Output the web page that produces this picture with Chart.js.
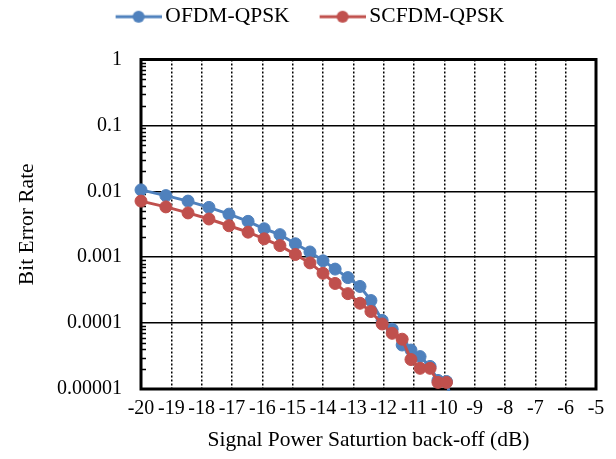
<!DOCTYPE html>
<html><head><meta charset="utf-8">
<script src="https://cdn.jsdelivr.net/npm/chart.js@4/dist/chart.umd.min.js"></script>
<style>html,body{margin:0;padding:0;background:#fff;}#wrap{width:616px;height:459px;position:relative;}</style>
</head><body><div id="wrap"><canvas id="c" width="616" height="459"></canvas></div>
<script>
// ---- data ----
const seriesNames = ['OFDM-QPSK', 'SCFDM-QPSK'];
const seriesColors = ['#4F81BD', '#C0504D'];
const backoffOfdm = [-20.0,-19.18,-18.45,-17.76,-17.10,-16.47,-15.94,-15.42,-14.91,-14.43,-14.0,-13.6,-13.18,-12.78,-12.42,-12.05,-11.72,-11.39,-11.10,-10.80,-10.47,-10.21,-9.93,-9.7];
const berOfdm = [0.0105,0.0086,0.0071,0.0057,0.0045,0.0035,0.0027,0.0022,0.0016,0.0012,0.00088,0.00066,0.00049,0.00036,0.00022,0.00011,0.000081,0.0000465,0.000039,0.000031,0.000022,0.0000135,0.000013,0.000005];
const backoffScfdm = [-20.0,-19.18,-18.45,-17.76,-17.10,-16.47,-15.94,-15.42,-14.91,-14.43,-14.0,-13.6,-13.18,-12.78,-12.42,-12.05,-11.72,-11.39,-11.10,-10.80,-10.47,-10.21,-9.93];
const berScfdm = [0.0071,0.0058,0.0047,0.0038,0.0030,0.0024,0.0019,0.0015,0.0011,0.00082,0.00057,0.00040,0.00028,0.00020,0.00015,0.000097,0.000070,0.000057,0.000028,0.0000206,0.0000206,0.0000126,0.0000126];
const xTicks = [-20,-19,-18,-17,-16,-15,-14,-13,-12,-11,-10,-9,-8,-7,-6,-5];
const yTicks = [1,0.1,0.01,0.001,0.0001,0.00001];
const yTickLabels = ['1','0.1','0.01','0.001','0.0001','0.00001'];
const xTitle = 'Signal Power Saturtion back-off (dB)';
const yTitle = 'Bit Error Rate';

const FONT = "'Liberation Serif','Times New Roman',serif";

function toPoints(xs, ys){ return xs.map((x,i)=>({x:x, y:ys[i]})); }

function legendIcon(color){
  const c = document.createElement('canvas');
  c.width = 77; c.height = 14;
  const g = c.getContext('2d');
  g.strokeStyle = color; g.lineWidth = 3;
  g.beginPath(); g.moveTo(31,7); g.lineTo(77,7); g.stroke();
  g.fillStyle = color; g.beginPath(); g.arc(54,7,6,0,Math.PI*2); g.fill();
  return c;
}

const framePlugin = {
  id: 'frame',
  beforeLayout(chart){
    const lg = chart.legend;
    if (lg && !lg._gapPatched){
      const f = lg.fit;
      lg.fit = function(){ f.call(this); this.height += 22; };
      lg._gapPatched = true;
    }
  },
  beforeDatasetsDraw(chart){
    const {ctx, chartArea:a, scales} = chart;
    const ys = scales.y;
    ctx.save();
    ctx.strokeStyle = '#000';
    ctx.lineWidth = 1.5;
    for (let d = 0; d < yTicks.length - 1; d++){
      const base = yTicks[d+1];
      for (let k = 2; k <= 9; k++){
        const py = Math.round(ys.getPixelForValue(base*k)) + 0.5;
        ctx.beginPath(); ctx.moveTo(a.left, py); ctx.lineTo(a.left+5, py); ctx.stroke();
      }
    }
    ctx.lineWidth = 3;
    ctx.strokeRect(a.left, a.top, a.right - a.left, a.bottom - a.top);
    ctx.restore();
  }
};

new Chart(document.getElementById('c'), {
  type: 'line',
  data: {
    datasets: [
      { label: seriesNames[1], data: toPoints(backoffScfdm, berScfdm), borderColor: seriesColors[1], backgroundColor: seriesColors[1],
        pointBackgroundColor: seriesColors[1], pointBorderColor: seriesColors[1], borderWidth: 3, pointRadius: 6, pointBorderWidth: 1,
        tension: 0, clip: {left: 12, top: 12, right: 12, bottom: 2} },
      { label: seriesNames[0], data: toPoints(backoffOfdm, berOfdm), borderColor: seriesColors[0], backgroundColor: seriesColors[0],
        pointBackgroundColor: seriesColors[0], pointBorderColor: seriesColors[0], borderWidth: 3, pointRadius: 6, pointBorderWidth: 1,
        tension: 0, clip: {left: 12, top: 12, right: 12, bottom: 2} }
    ]
  },
  options: {
    responsive: false,
    animation: false,
    devicePixelRatio: 1,
    layout: { padding: { left: 0, right: 20, top: 0, bottom: 6 } },
    plugins: {
      tooltip: { enabled: false },
      legend: {
        display: true, position: 'top',
        labels: {
          usePointStyle: true, pointStyleWidth: 63, padding: 6, color: '#000',
          font: { family: FONT, size: 21.5 },
          generateLabels(chart){
            return seriesNames.map((name, i) => ({
              text: name, fontColor: '#000', pointStyle: legendIcon(seriesColors[i]),
              datasetIndex: i === 0 ? 1 : 0, hidden: false, lineWidth: 0,
              strokeStyle: seriesColors[i], fillStyle: seriesColors[i]
            }));
          }
        }
      }
    },
    scales: {
      x: {
        type: 'linear', min: -20, max: -5,
        afterBuildTicks(s){ s.ticks = xTicks.map(v => ({value: v})); },
        afterFit(s){ s.height = 459 - 6 - 389; },
        grid: { color: '#000', lineWidth: 1.5, drawTicks: false },
        border: { display: false, dash: [2, 2] },
        ticks: { color: '#000', padding: 8, maxRotation: 0, autoSkip: false, font: { family: FONT, size: 20 },
                 callback(v){ return String(v); } },
        title: { display: true, text: xTitle, color: '#000', font: { family: FONT, size: 21.5 }, padding: { top: 0, bottom: 0 } }
      },
      y: {
        type: 'logarithmic', min: 0.00001, max: 1,
        afterBuildTicks(s){ s.ticks = yTicks.map(v => ({value: v})); },
        afterFit(s){ s.width = 141; },
        grid: { color: '#000', lineWidth: 1.5, drawTicks: false },
        border: { display: false },
        ticks: { color: '#000', padding: 19, font: { family: FONT, size: 20 },
                 callback(v){ const i = yTicks.findIndex(t => Math.abs(t - v) / t < 1e-6); return i >= 0 ? yTickLabels[i] : ''; } },
        title: { display: true, text: yTitle, color: '#000', font: { family: FONT, size: 21.5 }, padding: { top: 14, bottom: 0 } }
      }
    }
  },
  plugins: [framePlugin]
});
</script>
</body></html>
